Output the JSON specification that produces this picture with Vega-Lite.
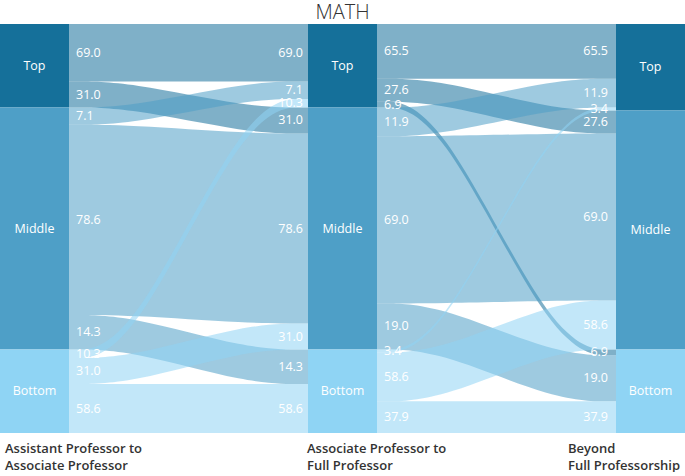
{
  "$schema": "https://vega.github.io/schema/vega-lite/v6.json",
  "background": "white",
  "padding": {"top": 3, "left": 0, "right": 0, "bottom": 0},
  "spacing": 0,
  "bounds": "flush",
  "title": {"text": "MATH", "anchor": "middle", "fontSize": 20, "fontWeight": 300, "color": "#333333", "offset": 1, "font": "Open Sans"},
  "config": {"view": {"stroke": null}, "font": "Open Sans"},
  "datasets": {
    "nodes": [
      {"column": "Assistant Professor to\nAssociate Professor", "col": 1, "level": "Top", "n": 29},
      {"column": "Assistant Professor to\nAssociate Professor", "col": 1, "level": "Middle", "n": 84},
      {"column": "Assistant Professor to\nAssociate Professor", "col": 1, "level": "Bottom", "n": 29},
      {"column": "Associate Professor to\nFull Professor", "col": 2, "level": "Top", "n": 29},
      {"column": "Associate Professor to\nFull Professor", "col": 2, "level": "Middle", "n": 84},
      {"column": "Associate Professor to\nFull Professor", "col": 2, "level": "Bottom", "n": 29},
      {"column": "Beyond\nFull Professorship", "col": 3, "level": "Top", "n": 30},
      {"column": "Beyond\nFull Professorship", "col": 3, "level": "Middle", "n": 83},
      {"column": "Beyond\nFull Professorship", "col": 3, "level": "Bottom", "n": 29}
    ],
    "links": [
      {"stage": 1, "source": "Top", "target": "Top", "n": 20, "pct": 69.0},
      {"stage": 1, "source": "Top", "target": "Middle", "n": 9, "pct": 31.0},
      {"stage": 1, "source": "Middle", "target": "Top", "n": 6, "pct": 7.1},
      {"stage": 1, "source": "Middle", "target": "Middle", "n": 66, "pct": 78.6},
      {"stage": 1, "source": "Middle", "target": "Bottom", "n": 12, "pct": 14.3},
      {"stage": 1, "source": "Bottom", "target": "Top", "n": 3, "pct": 10.3},
      {"stage": 1, "source": "Bottom", "target": "Middle", "n": 9, "pct": 31.0},
      {"stage": 1, "source": "Bottom", "target": "Bottom", "n": 17, "pct": 58.6},
      {"stage": 2, "source": "Top", "target": "Top", "n": 19, "pct": 65.5},
      {"stage": 2, "source": "Top", "target": "Middle", "n": 8, "pct": 27.6},
      {"stage": 2, "source": "Top", "target": "Bottom", "n": 2, "pct": 6.9},
      {"stage": 2, "source": "Middle", "target": "Top", "n": 10, "pct": 11.9},
      {"stage": 2, "source": "Middle", "target": "Middle", "n": 58, "pct": 69.0},
      {"stage": 2, "source": "Middle", "target": "Bottom", "n": 16, "pct": 19.0},
      {"stage": 2, "source": "Bottom", "target": "Top", "n": 1, "pct": 3.4},
      {"stage": 2, "source": "Bottom", "target": "Middle", "n": 17, "pct": 58.6},
      {"stage": 2, "source": "Bottom", "target": "Bottom", "n": 11, "pct": 37.9}
    ]
  },
  "hconcat": [
    {
      "width": 69, "height": 409,
      "data": {"name": "nodes"},
      "transform": [
        {"filter": "datum.col == 1"},
        {"calculate": "indexof(['Top','Middle','Bottom'], datum.level)", "as": "rank"},
        {"stack": "n", "groupby": ["col"], "sort": [{"field": "rank", "order": "ascending"}], "as": ["y0", "y1"]},
        {"calculate": "(datum.y0 + datum.y1) / 2", "as": "ym"}
      ],
      "encoding": {
        "x": {"field": "column", "type": "nominal", "scale": {"paddingInner": 0, "paddingOuter": 0},
              "axis": {"title": null, "domain": false, "ticks": false, "labelAngle": 0, "labelAlign": "left", "labelBaseline": "top", "labelPadding": 9, "labelFontSize": 13, "labelFontWeight": 600, "labelColor": "#333333", "labelExpr": "split(datum.value, '\\n')", "labelLineHeight": 17, "labelLimit": 0, "labelBound": false, "labelOverlap": false, "labelOffset": -29.5}}
      },
      "layer": [
        {"mark": {"type": "bar"},
         "encoding": {
           "y": {"field": "y0", "type": "quantitative", "scale": {"domain": [0, 142], "reverse": true, "nice": false, "zero": false}, "axis": null},
           "y2": {"field": "y1"},
           "color": {"field": "level", "type": "nominal", "scale": {"domain": ["Top", "Middle", "Bottom"], "range": ["#15709a", "#4e9fc7", "#8fd4f4"]}, "legend": null}
         }},
        {"mark": {"type": "text", "color": "white", "fontSize": 12.5, "baseline": "middle"},
         "encoding": {
           "y": {"field": "ym", "type": "quantitative", "scale": {"domain": [0, 142], "reverse": true, "nice": false, "zero": false}, "axis": null},
           "text": {"field": "level"}
         }}
      ]
    },
    {
      "width": 239, "height": 409,
      "data": {"name": "links"},
      "transform": [
        {"filter": "datum.stage == 1"},
        {"calculate": "indexof(['Top','Middle','Bottom'], datum.source)", "as": "sr"},
        {"calculate": "indexof(['Top','Middle','Bottom'], datum.target)", "as": "tr"},
        {"stack": "n", "groupby": ["stage"], "sort": [{"field": "sr", "order": "ascending"}, {"field": "tr", "order": "ascending"}], "as": ["sy0", "sy1"]},
        {"stack": "n", "groupby": ["stage"], "sort": [{"field": "tr", "order": "ascending"}, {"field": "sr", "order": "ascending"}], "as": ["ty0", "ty1"]},
        {"calculate": "datum.source + '-' + datum.target", "as": "link"}
      ],
      "layer": [
        {
          "transform": [
            {"calculate": "[0, 0.25, 0.75, 1]", "as": "t"},
            {"flatten": ["t"]},
            {"calculate": "datum.t < 0.5 ? datum.sy0 : datum.ty0", "as": "a0"},
            {"calculate": "datum.t < 0.5 ? datum.sy1 : datum.ty1", "as": "a1"}
          ],
          "mark": {"type": "area", "interpolate": "basis", "opacity": 0.55},
          "encoding": {
            "x": {"field": "t", "type": "quantitative", "scale": {"domain": [0, 1], "nice": false, "zero": false}, "axis": null},
            "y": {"field": "a0", "type": "quantitative", "scale": {"domain": [0, 142], "reverse": true, "nice": false, "zero": false}, "axis": null},
            "y2": {"field": "a1"},
            "color": {"field": "source", "type": "nominal", "scale": {"domain": ["Top", "Middle", "Bottom"], "range": ["#15709a", "#4e9fc7", "#8fd4f4"]}, "legend": null},
            "detail": {"field": "link"}
          }
        },
        {
          "transform": [{"calculate": "(datum.sy0 + datum.sy1) / 2", "as": "ym"}],
          "mark": {"type": "text", "align": "left", "baseline": "middle", "dx": 7, "color": "white", "fontSize": 12.5},
          "encoding": {
            "x": {"datum": 0, "type": "quantitative"},
            "y": {"field": "ym", "type": "quantitative"},
            "text": {"field": "pct", "type": "quantitative", "format": ".1f"}
          }
        },
        {
          "transform": [{"calculate": "(datum.ty0 + datum.ty1) / 2", "as": "ym"}],
          "mark": {"type": "text", "align": "right", "baseline": "middle", "dx": -5, "color": "white", "fontSize": 12.5},
          "encoding": {
            "x": {"datum": 1, "type": "quantitative"},
            "y": {"field": "ym", "type": "quantitative"},
            "text": {"field": "pct", "type": "quantitative", "format": ".1f"}
          }
        }
      ]
    },
    {
      "width": 69, "height": 409,
      "data": {"name": "nodes"},
      "transform": [
        {"filter": "datum.col == 2"},
        {"calculate": "indexof(['Top','Middle','Bottom'], datum.level)", "as": "rank"},
        {"stack": "n", "groupby": ["col"], "sort": [{"field": "rank", "order": "ascending"}], "as": ["y0", "y1"]},
        {"calculate": "(datum.y0 + datum.y1) / 2", "as": "ym"}
      ],
      "encoding": {
        "x": {"field": "column", "type": "nominal", "scale": {"paddingInner": 0, "paddingOuter": 0},
              "axis": {"title": null, "domain": false, "ticks": false, "labelAngle": 0, "labelAlign": "left", "labelBaseline": "top", "labelPadding": 9, "labelFontSize": 13, "labelFontWeight": 600, "labelColor": "#333333", "labelExpr": "split(datum.value, '\\n')", "labelLineHeight": 17, "labelLimit": 0, "labelBound": false, "labelOverlap": false, "labelOffset": -35.5}}
      },
      "layer": [
        {"mark": {"type": "bar"},
         "encoding": {
           "y": {"field": "y0", "type": "quantitative", "scale": {"domain": [0, 142], "reverse": true, "nice": false, "zero": false}, "axis": null},
           "y2": {"field": "y1"},
           "color": {"field": "level", "type": "nominal", "scale": {"domain": ["Top", "Middle", "Bottom"], "range": ["#15709a", "#4e9fc7", "#8fd4f4"]}, "legend": null}
         }},
        {"mark": {"type": "text", "color": "white", "fontSize": 12.5, "baseline": "middle"},
         "encoding": {
           "y": {"field": "ym", "type": "quantitative", "scale": {"domain": [0, 142], "reverse": true, "nice": false, "zero": false}, "axis": null},
           "text": {"field": "level"}
         }}
      ]
    },
    {
      "width": 239, "height": 409,
      "data": {"name": "links"},
      "transform": [
        {"filter": "datum.stage == 2"},
        {"calculate": "indexof(['Top','Middle','Bottom'], datum.source)", "as": "sr"},
        {"calculate": "indexof(['Top','Middle','Bottom'], datum.target)", "as": "tr"},
        {"stack": "n", "groupby": ["stage"], "sort": [{"field": "sr", "order": "ascending"}, {"field": "tr", "order": "ascending"}], "as": ["sy0", "sy1"]},
        {"stack": "n", "groupby": ["stage"], "sort": [{"field": "tr", "order": "ascending"}, {"field": "sr", "order": "ascending"}], "as": ["ty0", "ty1"]},
        {"calculate": "datum.source + '-' + datum.target", "as": "link"}
      ],
      "layer": [
        {
          "transform": [
            {"calculate": "[0, 0.25, 0.75, 1]", "as": "t"},
            {"flatten": ["t"]},
            {"calculate": "datum.t < 0.5 ? datum.sy0 : datum.ty0", "as": "a0"},
            {"calculate": "datum.t < 0.5 ? datum.sy1 : datum.ty1", "as": "a1"}
          ],
          "mark": {"type": "area", "interpolate": "basis", "opacity": 0.55},
          "encoding": {
            "x": {"field": "t", "type": "quantitative", "scale": {"domain": [0, 1], "nice": false, "zero": false}, "axis": null},
            "y": {"field": "a0", "type": "quantitative", "scale": {"domain": [0, 142], "reverse": true, "nice": false, "zero": false}, "axis": null},
            "y2": {"field": "a1"},
            "color": {"field": "source", "type": "nominal", "scale": {"domain": ["Top", "Middle", "Bottom"], "range": ["#15709a", "#4e9fc7", "#8fd4f4"]}, "legend": null},
            "detail": {"field": "link"}
          }
        },
        {
          "transform": [{"calculate": "(datum.sy0 + datum.sy1) / 2", "as": "ym"}],
          "mark": {"type": "text", "align": "left", "baseline": "middle", "dx": 7, "color": "white", "fontSize": 12.5},
          "encoding": {
            "x": {"datum": 0, "type": "quantitative"},
            "y": {"field": "ym", "type": "quantitative"},
            "text": {"field": "pct", "type": "quantitative", "format": ".1f"}
          }
        },
        {
          "transform": [{"calculate": "(datum.ty0 + datum.ty1) / 2", "as": "ym"}],
          "mark": {"type": "text", "align": "right", "baseline": "middle", "dx": -8, "color": "white", "fontSize": 12.5},
          "encoding": {
            "x": {"datum": 1, "type": "quantitative"},
            "y": {"field": "ym", "type": "quantitative"},
            "text": {"field": "pct", "type": "quantitative", "format": ".1f"}
          }
        }
      ]
    },
    {
      "width": 69, "height": 409,
      "data": {"name": "nodes"},
      "transform": [
        {"filter": "datum.col == 3"},
        {"calculate": "indexof(['Top','Middle','Bottom'], datum.level)", "as": "rank"},
        {"stack": "n", "groupby": ["col"], "sort": [{"field": "rank", "order": "ascending"}], "as": ["y0", "y1"]},
        {"calculate": "(datum.y0 + datum.y1) / 2", "as": "ym"}
      ],
      "encoding": {
        "x": {"field": "column", "type": "nominal", "scale": {"paddingInner": 0, "paddingOuter": 0},
              "axis": {"title": null, "domain": false, "ticks": false, "labelAngle": 0, "labelAlign": "left", "labelBaseline": "top", "labelPadding": 9, "labelFontSize": 13, "labelFontWeight": 600, "labelColor": "#333333", "labelExpr": "split(datum.value, '\\n')", "labelLineHeight": 17, "labelLimit": 0, "labelBound": false, "labelOverlap": false, "labelOffset": -82.5}}
      },
      "layer": [
        {"mark": {"type": "bar"},
         "encoding": {
           "y": {"field": "y0", "type": "quantitative", "scale": {"domain": [0, 142], "reverse": true, "nice": false, "zero": false}, "axis": null},
           "y2": {"field": "y1"},
           "color": {"field": "level", "type": "nominal", "scale": {"domain": ["Top", "Middle", "Bottom"], "range": ["#15709a", "#4e9fc7", "#8fd4f4"]}, "legend": null}
         }},
        {"mark": {"type": "text", "color": "white", "fontSize": 12.5, "baseline": "middle"},
         "encoding": {
           "y": {"field": "ym", "type": "quantitative", "scale": {"domain": [0, 142], "reverse": true, "nice": false, "zero": false}, "axis": null},
           "text": {"field": "level"}
         }}
      ]
    }
  ]
}
